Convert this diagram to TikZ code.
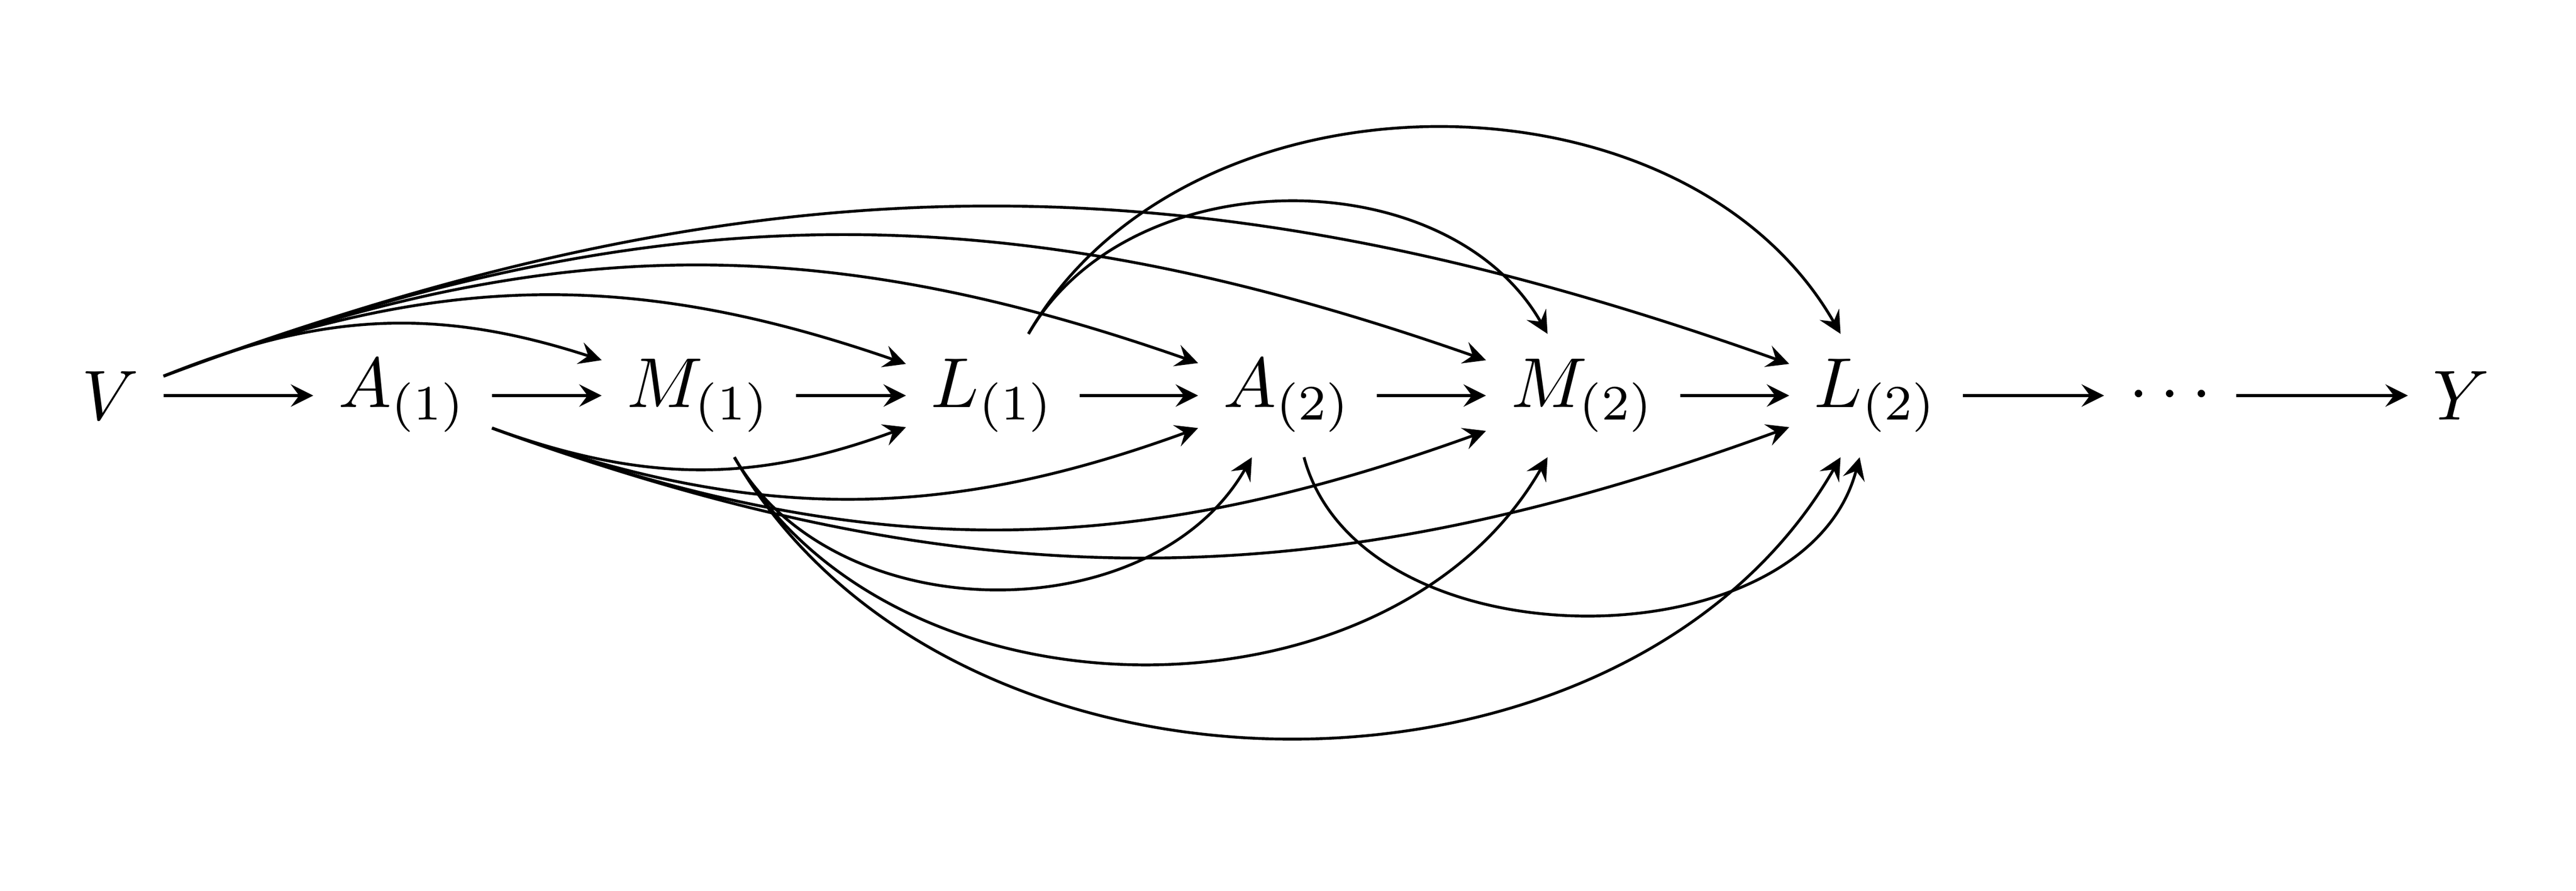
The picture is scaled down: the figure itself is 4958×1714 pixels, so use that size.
\documentclass[tikz,border=0pt]{standalone}
\begin{document}
\begin{tikzpicture}[x=0.07353pt,y=0.07353pt,>=stealth,
  var/.style={inner sep=0.3333em, outer sep=0.2pt},
  edge/.style={->, line width=0.4pt}]
\useasboundingbox (0,0) rectangle (4958,1714);
\node[var] (V)  at (212,953)  {$V$};
\node[var] (A1) at (775,953)  {$A_{(1)}$};
\node[var] (M1) at (1345,953) {$M_{(1)}$};
\node[var] (L1) at (1911,953) {$L_{(1)}$};
\node[var] (A2) at (2478,953) {$A_{(2)}$};
\node[var] (M2) at (3047,953) {$M_{(2)}$};
\node[var] (L2) at (3611,953) {$L_{(2)}$};
\node[var] (D)  at (4177,953) {$\cdots$};
\node[var] (Y)  at (4737,953) {$Y$};
% chain
\draw[edge] (V) -- (A1);
\draw[edge] (A1) -- (M1);
\draw[edge] (M1) -- (L1);
\draw[edge] (L1) -- (A2);
\draw[edge] (A2) -- (M2);
\draw[edge] (M2) -- (L2);
\draw[edge] (L2) -- (D);
\draw[edge] (D) -- (Y);
% from V (above)
\draw[edge] (V) to[bend left=20] (M1);
\draw[edge] (V) to[bend left=20] (L1);
\draw[edge] (V) to[bend left=20] (A2);
\draw[edge] (V) to[bend left=20] (M2);
\draw[edge] (V) to[bend left=20] (L2);
% from L1 (above)
\draw[edge] (L1) to[bend left=60] (M2);
\draw[edge] (L1) to[bend left=60] (L2);
% from A1 (below)
\draw[edge] (A1) to[bend right=20] (L1);
\draw[edge] (A1) to[bend right=20] (A2);
\draw[edge] (A1) to[bend right=20] (M2);
\draw[edge] (A1) to[bend right=20] (L2);
% from M1 (below)
\draw[edge] (M1) to[bend right=60] (A2);
\draw[edge] (M1) to[bend right=60] (M2);
\draw[edge] (M1) to[bend right=60] (L2);
% from A2 (below)
\draw[edge] (A2) to[bend right=75] (L2);
\end{tikzpicture}
\end{document}
